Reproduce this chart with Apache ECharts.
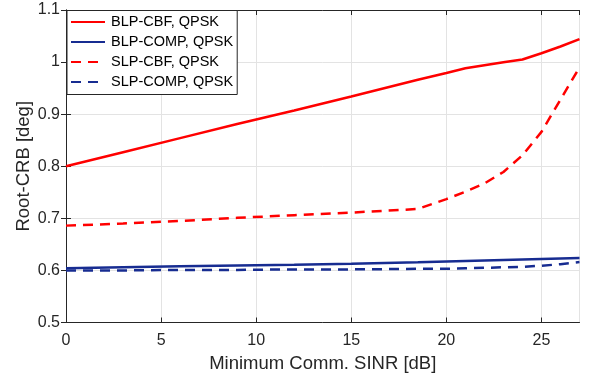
<!DOCTYPE html>
<html>
<head>
<meta charset="utf-8">
<script src="https://cdn.jsdelivr.net/npm/echarts@6/dist/echarts.min.js"></script>
<style>html,body{margin:0;padding:0;background:#fff}#c{width:589px;height:383px}</style>
</head>
<body>
<div id="c"></div>
<script>
const sinr = [0, 3, 6, 9, 12, 15, 18.5, 20, 21, 22, 23, 24, 25, 26, 27];
const blpCbf  = [0.800, 0.827, 0.854, 0.881, 0.907, 0.934, 0.966, 0.979, 0.988, 0.994, 0.9995, 1.005, 1.017, 1.030, 1.044];
const blpComp = [0.604, 0.606, 0.608, 0.6095, 0.611, 0.613, 0.6155, 0.617, 0.618, 0.619, 0.620, 0.621, 0.622, 0.623, 0.624];
const slpCbf  = [0.686, 0.690, 0.695, 0.701, 0.706, 0.711, 0.718, 0.737, 0.751, 0.767, 0.789, 0.821, 0.866, 0.928, 0.990];
const slpComp = [0.600, 0.600, 0.601, 0.601, 0.602, 0.602, 0.603, 0.603, 0.604, 0.605, 0.606, 0.607, 0.609, 0.612, 0.616];
const seriesNames = ['BLP-CBF, QPSK', 'BLP-COMP, QPSK', 'SLP-CBF, QPSK', 'SLP-COMP, QPSK'];
const xTitle = 'Minimum Comm. SINR [dB]';
const yTitle = 'Root-CRB [deg]';

const RED = '#ff0000', BLUE = '#172c91', AX = '#262626';
const FONT = '"Liberation Sans", Arial, Helvetica, sans-serif';
const pairs = ys => sinr.map((x, i) => [x, ys[i]]);
const mk = (name, ys, color, dashed) => ({
  name, type: 'line', data: pairs(ys), symbol: 'none', showSymbol: false,
  xAxisIndex: 0, yAxisIndex: 0,
  lineStyle: { color, width: 2.5, type: dashed ? [10, 7] : 'solid' },
  itemStyle: { color }, animation: false
});

const chart = echarts.init(document.getElementById('c'), null, { renderer: 'canvas' });
const commonX = { type: 'value', min: 0, max: 27, interval: 5 };
const commonY = { type: 'value', min: 0.5, max: 1.1, interval: 0.1 };
chart.setOption({
  animation: false,
  textStyle: { fontFamily: FONT },
  grid: { left: 66, right: 9.5, top: 10, bottom: 60.5, containLabel: false },
  legend: {
    orient: 'vertical', left: 67, top: 10.5,
    data: seriesNames,
    backgroundColor: '#fff', borderColor: AX, borderWidth: 1,
    padding: [4, 4, 5, 3], itemGap: 5, itemWidth: 34, itemHeight: 14,
    itemStyle: { opacity: 0 },
    textStyle: { fontFamily: FONT, fontSize: 14.5, color: '#000', padding: [0, 0, 0, 1] }
  },
  xAxis: [
    Object.assign({}, commonX, {
      position: 'bottom',
      name: xTitle, nameLocation: 'middle', nameGap: 32, nameMoveOverlap: false,
      nameTextStyle: { fontFamily: FONT, fontSize: 18.5, color: AX },
      axisLine: { show: true, lineStyle: { color: AX, width: 1 } },
      axisTick: { show: true, inside: true, length: 5, lineStyle: { color: AX } },
      axisLabel: { fontFamily: FONT, fontSize: 16, color: AX, margin: 10, showMaxLabel: false },
      splitLine: { show: true, lineStyle: { color: '#e3e3e3', width: 1 } }
    }),
    Object.assign({}, commonX, {
      position: 'top',
      axisLine: { show: true, lineStyle: { color: AX, width: 1 } },
      axisTick: { show: true, inside: true, length: 5, lineStyle: { color: AX } },
      axisLabel: { show: false }, splitLine: { show: false }
    })
  ],
  yAxis: [
    Object.assign({}, commonY, {
      position: 'left',
      name: yTitle, nameLocation: 'middle', nameGap: 33, nameMoveOverlap: false,
      nameTextStyle: { fontFamily: FONT, fontSize: 18.5, color: AX },
      axisLine: { show: true, lineStyle: { color: AX, width: 1 } },
      axisTick: { show: true, inside: true, length: 5, lineStyle: { color: AX } },
      axisLabel: { fontFamily: FONT, fontSize: 16, color: AX, margin: 6,
        formatter: v => String(Math.round(v * 10) / 10) },
      splitLine: { show: true, lineStyle: { color: '#e3e3e3', width: 1 } }
    }),
    Object.assign({}, commonY, {
      position: 'right',
      axisLine: { show: true, lineStyle: { color: AX, width: 1 } },
      axisTick: { show: true, inside: true, length: 5, lineStyle: { color: AX } },
      axisLabel: { show: false }, splitLine: { show: false }
    })
  ],
  series: [
    mk(seriesNames[0], blpCbf, RED, false),
    mk(seriesNames[1], blpComp, BLUE, false),
    mk(seriesNames[2], slpCbf, RED, true),
    mk(seriesNames[3], slpComp, BLUE, true)
  ]
});
</script>
</body>
</html>
